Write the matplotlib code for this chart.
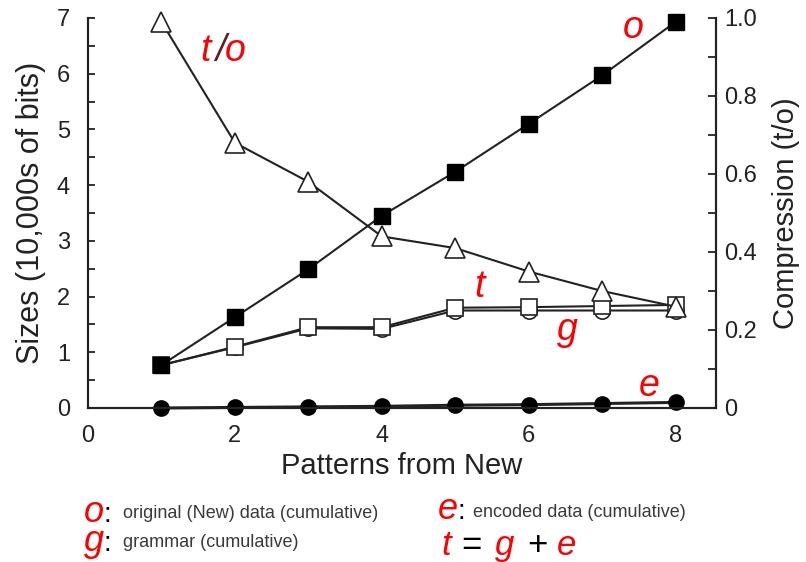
import numpy as np
import matplotlib
matplotlib.use("Agg")
import matplotlib.pyplot as plt
from matplotlib.ticker import MultipleLocator

plt.rcParams["font.family"] = ["Liberation Sans", "DejaVu Sans"]

# values
patterns = [1, 2, 3, 4, 5, 6, 7, 8]
original = [0.77, 1.63, 2.49, 3.45, 4.24, 5.10, 5.97, 6.93]     # o
total = [0.77, 1.10, 1.45, 1.45, 1.80, 1.81, 1.83, 1.85]        # t
grammar = [0.77, 1.09, 1.43, 1.42, 1.75, 1.75, 1.75, 1.75]      # g
encoded = [0.0, 0.01, 0.02, 0.03, 0.05, 0.06, 0.08, 0.10]       # e
compression = [0.99, 0.68, 0.58, 0.44, 0.41, 0.35, 0.30, 0.26]  # t/o

W, H = 806, 562
fig = plt.figure(figsize=(W / 100, H / 100), dpi=100)
ax = fig.add_axes([88 / W, 1 - 408 / H, (716 - 88) / W, (408 - 18) / H])
ax2 = ax.twinx()

lc = "#222222"
ax.plot(patterns, encoded, "-", color=lc, lw=2.2, marker="o", ms=11,
        mfc="black", mec="black", clip_on=False, zorder=3)
ax.plot(patterns, grammar, "-", color=lc, lw=1.5, marker="o", ms=11,
        mfc="white", mec=lc, mew=1.2, clip_on=False, zorder=3)
ax.plot(patterns, total, "-", color=lc, lw=1.5, marker="s", ms=12,
        mfc="white", mec=lc, mew=1.2, clip_on=False, zorder=4)
ax.plot(patterns, original, "-", color=lc, lw=1.5, marker="s", ms=12,
        mfc="black", mec="black", clip_on=False, zorder=5)
ax2.plot(patterns, compression, "-", color=lc, lw=1.5, marker="^", ms=15,
         mfc="white", mec=lc, mew=1.2, clip_on=False, zorder=5)

ax.set_xlim(0, 8.55)
ax.set_ylim(0, 7)
ax2.set_ylim(0, 1.0)
ax.set_xticks([0, 2, 4, 6, 8])
ax.set_yticks(range(0, 8))
ax.yaxis.set_minor_locator(MultipleLocator(0.5))
ax2.set_yticks([0, 0.2, 0.4, 0.6, 0.8, 1.0])
ax2.set_yticklabels(["0", "0.2", "0.4", "0.6", "0.8", "1.0"])
ax2.yaxis.set_minor_locator(MultipleLocator(0.1))

for a in (ax, ax2):
    a.spines["top"].set_visible(False)
    for s in a.spines.values():
        s.set_linewidth(1.5)
        s.set_color("#222222")
ax.tick_params(axis="y", which="both", direction="in", length=5, width=1.3,
               labelsize=17, pad=13, colors="#222222")
ax.tick_params(axis="x", length=0, labelsize=17, pad=12, colors="#222222")
ax2.tick_params(axis="y", which="both", direction="in", length=6, width=1.3,
                labelsize=17, pad=6, colors="#222222")

ax.set_xlabel("Patterns from New", fontsize=21, labelpad=4, color="#222222")
ax.set_ylabel("Sizes (10,000s of bits)", fontsize=22, labelpad=8, color="#222222")
ax2.set_ylabel("Compression (t/o)", fontsize=21, labelpad=11, color="#222222")

red = "#ff0000"
big = 27
ax.text(7.42, 6.82, "o", color=red, style="italic", fontsize=big, ha="center", va="center")
ax.text(5.33, 2.17, "t", color=red, style="italic", fontsize=big, ha="center", va="center")
ax.text(6.52, 1.40, "g", color=red, style="italic", fontsize=big, ha="center", va="center")
ax.text(7.64, 0.40, "e", color=red, style="italic", fontsize=big, ha="center", va="center")
ax.text(1.60, 6.40, "t", color=red, style="italic", fontsize=big, ha="center", va="center")
ax.text(1.80, 6.40, "/", color="#6b1a1a", style="italic", fontsize=big, ha="center", va="center")
ax.text(2.00, 6.40, "o", color=red, style="italic", fontsize=big, ha="center", va="center")


def ftext(x, y, s, **kw):
    fig.text(x / W, 1 - y / H, s, va="baseline", ha="left", **kw)


small = dict(fontsize=13, color="#3a3a3a")
leg = 26
ftext(84, 522, "o", color=red, style="italic", fontsize=leg)
ftext(103, 522, ":", color="black", fontsize=20)
ftext(123, 518, "original (New) data (cumulative)", **small)
ftext(84, 551, "g", color=red, style="italic", fontsize=leg)
ftext(103, 551, ":", color="black", fontsize=20)
ftext(123, 547, "grammar (cumulative)", **small)
ftext(438, 519, "e", color=red, style="italic", fontsize=leg)
ftext(458, 519, ":", color="black", fontsize=20)
ftext(473, 517, "encoded data (cumulative)", **small)
ftext(441, 555, "t", color=red, style="italic", fontsize=25)
ftext(461, 555, "=", color="black", fontsize=25)
ftext(495, 555, "g", color=red, style="italic", fontsize=25)
ftext(527, 555, "+", color="black", fontsize=25)
ftext(557, 555, "e", color=red, style="italic", fontsize=25)

fig.savefig("out.png", dpi=100)
